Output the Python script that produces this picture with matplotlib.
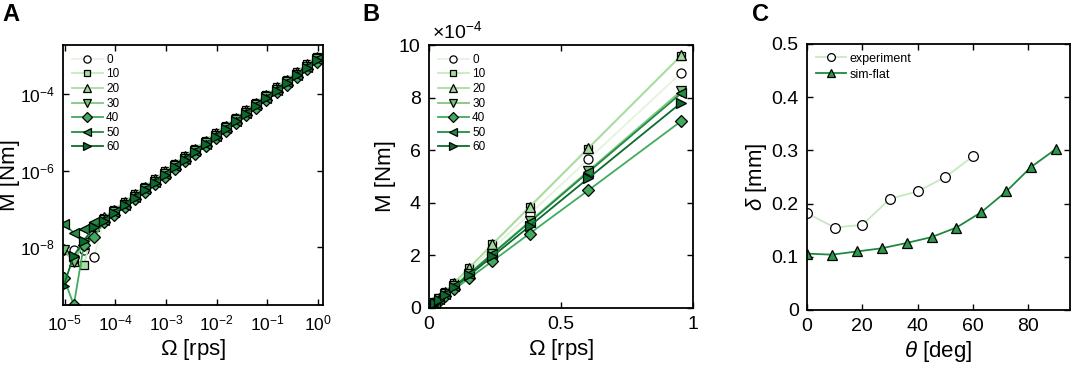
import numpy as np
import matplotlib
matplotlib.use("Agg")
import matplotlib.pyplot as plt
from matplotlib.ticker import NullLocator, FixedLocator

plt.rcParams['font.family'] = ['Liberation Sans', 'DejaVu Sans']
plt.rcParams['mathtext.fontset'] = 'custom'
plt.rcParams['mathtext.rm'] = 'Liberation Sans'
plt.rcParams['mathtext.it'] = 'Liberation Sans:italic'

nan = np.nan

# rotation speed [rps]
omega = [9.57e-6, 1.52e-5, 2.40e-5, 3.81e-5, 6.04e-5, 9.57e-5, 1.52e-4, 2.40e-4,
         3.81e-4, 6.04e-4, 9.57e-4, 1.52e-3, 2.40e-3, 3.81e-3, 6.04e-3, 9.57e-3,
         1.52e-2, 2.40e-2, 3.81e-2, 6.04e-2, 9.57e-2, 0.152, 0.240, 0.381, 0.603, 0.956]

# torque [Nm] for each angle
m_0 = [nan, 8.3e-9, 8.5e-9, 5.5e-9, 5.65e-8, 8.96e-8, 1.42e-7, 2.25e-7, 3.57e-7, 5.65e-7,
       8.96e-7, 1.42e-6, 2.25e-6, 3.57e-6, 5.65e-6, 8.96e-6, 1.42e-5, 2.25e-5, 3.57e-5,
       5.65e-5, 8.96e-5, 1.42e-4, 2.25e-4, 3.57e-4, 5.65e-4, 8.95e-4]
m_10 = [nan, 5.0e-9, 3.5e-9, 3.6e-8, 6.0e-8, 9.6e-8, 1.52e-7, 2.41e-7, 3.82e-7, 6.05e-7,
        9.6e-7, 1.52e-6, 2.41e-6, 3.82e-6, 6.05e-6, 9.6e-6, 1.52e-5, 2.41e-5, 3.82e-5,
        6.05e-5, 9.6e-5, 1.53e-4, 2.42e-4, 3.83e-4, 6.06e-4, 9.6e-4]
m_20 = [9.0e-9, 4.5e-9, 1.2e-8, 3.6e-8, 6.1e-8, 9.6e-8, 1.53e-7, 2.42e-7, 3.83e-7, 6.07e-7,
        9.62e-7, 1.53e-6, 2.42e-6, 3.83e-6, 6.07e-6, 9.62e-6, 1.53e-5, 2.42e-5, 3.84e-5,
        6.08e-5, 9.63e-5, 1.53e-4, 2.42e-4, 3.85e-4, 6.08e-4, 9.61e-4]
m_30 = [8.5e-9, 4.2e-9, 1.3e-8, 3.3e-8, 5.2e-8, 8.3e-8, 1.31e-7, 2.07e-7, 3.29e-7, 5.22e-7,
        8.27e-7, 1.31e-6, 2.07e-6, 3.29e-6, 5.22e-6, 8.27e-6, 1.31e-5, 2.07e-5, 3.29e-5,
        5.22e-5, 8.27e-5, 1.31e-4, 2.07e-4, 3.29e-4, 5.21e-4, 8.26e-4]
m_40 = [1.6e-9, 3.1e-10, 1.15e-8, 1.9e-8, 4.5e-8, 7.1e-8, 1.13e-7, 1.78e-7, 2.83e-7, 4.48e-7,
        7.10e-7, 1.13e-6, 1.78e-6, 2.83e-6, 4.48e-6, 7.10e-6, 1.13e-5, 1.78e-5, 2.83e-5,
        4.48e-5, 7.10e-5, 1.13e-4, 1.78e-4, 2.83e-4, 4.47e-4, 7.11e-4]
m_50 = [4.1e-8, 2.4e-8, 3.1e-8, 4.7e-8, 5.2e-8, 8.2e-8, 1.30e-7, 2.05e-7, 3.26e-7, 5.16e-7,
        8.18e-7, 1.30e-6, 2.05e-6, 3.26e-6, 5.16e-6, 8.18e-6, 1.30e-5, 2.05e-5, 3.26e-5,
        5.16e-5, 8.18e-5, 1.30e-4, 2.05e-4, 3.26e-4, 5.16e-4, 8.17e-4]
m_60 = [1.0e-9, 6.0e-9, 1.5e-8, 3.45e-8, 4.9e-8, 7.8e-8, 1.24e-7, 1.96e-7, 3.11e-7, 4.93e-7,
        7.82e-7, 1.24e-6, 1.96e-6, 3.11e-6, 4.93e-6, 7.82e-6, 1.24e-5, 1.96e-5, 3.11e-5,
        4.93e-5, 7.82e-5, 1.24e-4, 1.96e-4, 3.11e-4, 4.93e-4, 7.81e-4]

angles = ['0', '10', '20', '30', '40', '50', '60']
torques = [m_0, m_10, m_20, m_30, m_40, m_50, m_60]

# panel C
theta_exp = [0, 10, 20, 30, 40, 50, 60]
delta_exp = [0.182, 0.155, 0.160, 0.209, 0.223, 0.250, 0.289]
theta_sim = [0, 9, 18, 27, 36, 45, 54, 63, 72, 81, 90]
delta_sim = [0.106, 0.104, 0.110, 0.116, 0.126, 0.137, 0.155, 0.184, 0.223, 0.269, 0.303]

# styles
line_cols = ['#e3f4dd', '#c7e9c0', '#a8dca0', '#7cc97c', '#41ab5d', '#238b45', '#0b6b2e']
face_cols = ['white', '#a8dca0', '#a1d99b', '#74c476', '#41ab5d', '#238b45', '#0b6b2e']
markers = ['o', 's', '^', 'v', 'D', '<', '>']
msizes = [6.5, 5.5, 7, 7, 6, 7, 7]

W, H = 1072, 366
fig = plt.figure(figsize=(W / 100, H / 100), dpi=100)


def px_axes(l, r, t, b):
    return fig.add_axes([l / W, 1 - b / H, (r - l) / W, (b - t) / H])


def style_axes(ax, size=14):
    ax.tick_params(direction='in', top=True, right=True, length=4.5, width=1,
                   labelsize=size, pad=6)
    for s in ax.spines.values():
        s.set_linewidth(1.3)


axA = px_axes(63, 323, 45, 305)
axB = px_axes(429, 693, 45, 308)
axC = px_axes(807, 1070, 44, 310)

for ax in (axA, axB):
    for i in range(7):
        ax.plot(omega, torques[i], color=line_cols[i], lw=1.3, marker=markers[i],
                ms=msizes[i], mfc=face_cols[i], mec='black', mew=0.9, label=angles[i])
    ax.legend(loc='upper left', frameon=False, fontsize=8.5, handlelength=2.6,
              labelspacing=0.22, borderaxespad=0.35, handletextpad=0.3,
              markerscale=0.8)
    ax.set_xlabel(r'$\Omega$ [rps]', fontsize=16, labelpad=3)

style_axes(axA, 12.5)
style_axes(axB)
axA.set_ylabel('M [Nm]', fontsize=16, labelpad=0)
axB.set_ylabel('M [Nm]', fontsize=16, labelpad=2)

axA.set_xscale('log')
axA.set_yscale('log')
axA.set_xlim(9.3e-6, 1.25)
axA.set_ylim(3.1e-10, 1.95e-3)
axA.xaxis.set_major_locator(FixedLocator([1e-5, 1e-4, 1e-3, 1e-2, 1e-1, 1e0]))
axA.yaxis.set_major_locator(FixedLocator([1e-8, 1e-6, 1e-4]))
axA.xaxis.set_minor_locator(NullLocator())
axA.yaxis.set_minor_locator(NullLocator())

axB.set_xlim(0, 1)
axB.set_ylim(0, 1e-3)
axB.set_xticks([0, 0.5, 1])
axB.set_xticklabels(['0', '0.5', '1'])
axB.set_yticks([0, 2e-4, 4e-4, 6e-4, 8e-4, 10e-4])
axB.set_yticklabels(['0', '2', '4', '6', '8', '10'])
axB.text(0.01, 1.01, r'$\times 10^{-4}$', transform=axB.transAxes, fontsize=14,
         ha='left', va='bottom')

axC.plot(theta_exp, delta_exp, color='#c7e9c0', lw=1.3, marker='o', ms=7,
         mfc='white', mec='black', mew=0.9, label='experiment')
axC.plot(theta_sim, delta_sim, color='#1f8a3f', lw=1.3, marker='^', ms=7.5,
         mfc='#2a9a4a', mec='black', mew=0.9, label='sim-flat')
style_axes(axC)
axC.set_xlim(0, 95)
axC.set_ylim(0, 0.5)
axC.set_xticks([0, 20, 40, 60, 80])
axC.set_yticks([0, 0.1, 0.2, 0.3, 0.4, 0.5])
axC.set_yticklabels(['0', '0.1', '0.2', '0.3', '0.4', '0.5'])
axC.legend(loc='upper left', frameon=False, fontsize=9, handlelength=2.4,
           labelspacing=0.3, borderaxespad=0.3, handletextpad=0.3, markerscale=0.8)
axC.set_xlabel(r'$\theta$ [deg]', fontsize=16, labelpad=3)
axC.set_ylabel(r'$\delta$ [mm]', fontsize=16, labelpad=2)

for lbl, x in (('A', 2), ('B', 362), ('C', 752)):
    fig.text(x / W, 1 - 3 / H, lbl, fontsize=17, fontweight='bold', ha='left', va='top')

fig.savefig('out.png', dpi=100)
